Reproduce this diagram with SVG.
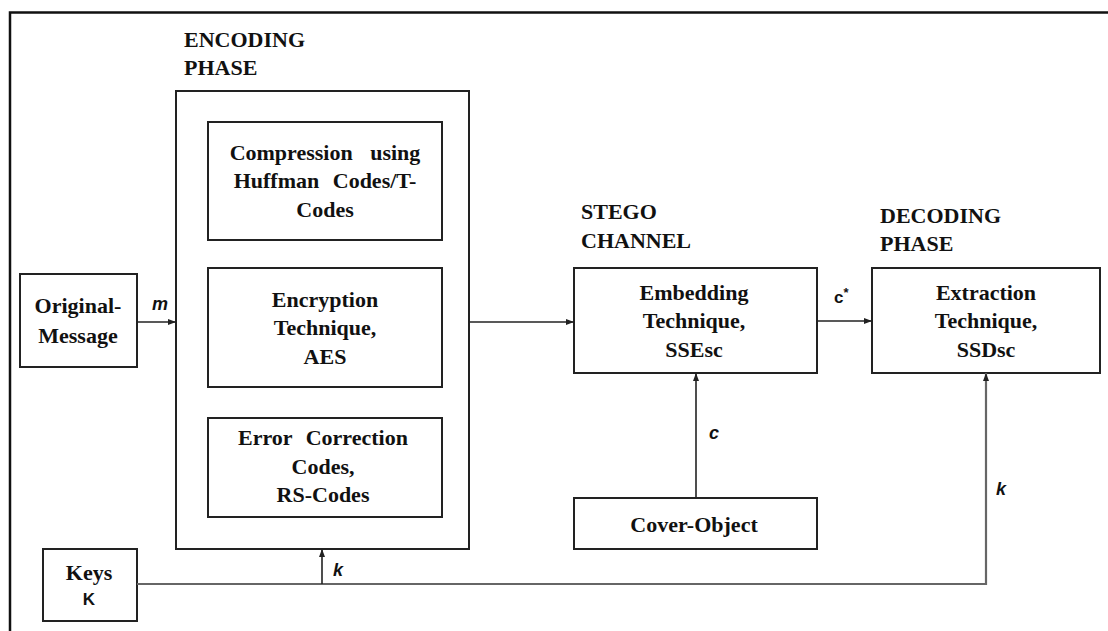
<svg xmlns="http://www.w3.org/2000/svg" width="1108" height="631" viewBox="0 0 1108 631">
<defs>
<style>
.box{fill:#fff;stroke:#222;stroke-width:2}
.t{font-family:"Liberation Serif","Times New Roman",serif;font-weight:bold;font-size:22px;fill:#111;text-anchor:middle}
.h{font-family:"Liberation Serif","Times New Roman",serif;font-weight:bold;font-size:22px;fill:#111}
.lb{font-family:"Liberation Sans",Arial,sans-serif;font-weight:bold;font-style:italic;font-size:18px;fill:#111}
.ln{fill:none;stroke:#222;stroke-width:1.6}
.lg{fill:none;stroke:#666;stroke-width:2.2}
</style>
<marker id="ah" viewBox="0 0 8 8" refX="8" refY="4" markerWidth="8" markerHeight="8" markerUnits="userSpaceOnUse" orient="auto">
<path d="M0,1 L8,4 L0,7 Z" fill="#222"/>
</marker>
</defs>
<rect width="1108" height="631" fill="#fff"/>
<g id="frame">
<path d="M1108,12.5 H10 V631" fill="none" stroke="#111" stroke-width="2.5"/>
</g>
<g id="headings">
<text class="h" x="184" y="47">ENCODING</text>
<text class="h" x="184" y="75">PHASE</text>
<text class="h" x="581" y="219">STEGO</text>
<text class="h" x="581" y="248">CHANNEL</text>
<text class="h" x="880" y="223">DECODING</text>
<text class="h" x="880" y="251">PHASE</text>
</g>
<g id="encoding-phase">
<rect class="box" x="176" y="91" width="293" height="458"/>
</g>
<g id="compression">
<rect class="box" x="208" y="122" width="234" height="118"/>
<text class="t" x="325" y="160" word-spacing="12">Compression using</text>
<text class="t" x="325" y="188" word-spacing="8">Huffman Codes/T-</text>
<text class="t" x="325" y="217">Codes</text>
</g>
<g id="encryption">
<rect class="box" x="208" y="268" width="234" height="119"/>
<text class="t" x="325" y="307">Encryption</text>
<text class="t" x="325" y="335">Technique,</text>
<text class="t" x="325" y="364">AES</text>
</g>
<g id="error-correction">
<rect class="box" x="208" y="418" width="234" height="99"/>
<text class="t" x="323" y="445" word-spacing="8">Error Correction</text>
<text class="t" x="323" y="474">Codes,</text>
<text class="t" x="323" y="502">RS-Codes</text>
</g>
<g id="original-message">
<rect class="box" x="20" y="274" width="117" height="93"/>
<text class="t" x="78" y="313">Original-</text>
<text class="t" x="78" y="343">Message</text>
</g>
<g id="keys">
<rect class="box" x="43" y="549" width="94" height="72"/>
<text class="t" x="89" y="580">Keys</text>
<text x="89" y="605" font-family="'Liberation Sans',Arial,sans-serif" font-weight="bold" font-size="17" fill="#111" text-anchor="middle">K</text>
</g>
<g id="embedding">
<rect class="box" x="574" y="268" width="243" height="105"/>
<text class="t" x="694" y="300">Embedding</text>
<text class="t" x="694" y="328">Technique,</text>
<text class="t" x="694" y="357">SSEsc</text>
</g>
<g id="extraction">
<rect class="box" x="872" y="268" width="228" height="105"/>
<text class="t" x="986" y="300">Extraction</text>
<text class="t" x="986" y="328">Technique,</text>
<text class="t" x="986" y="357">SSDsc</text>
</g>
<g id="cover-object">
<rect class="box" x="574" y="498" width="243" height="51"/>
<text class="t" x="694" y="532">Cover-Object</text>
</g>
<g id="connectors">
<line class="ln" x1="137" y1="322" x2="176" y2="322" marker-end="url(#ah)"/>
<line class="ln" x1="469" y1="322" x2="574" y2="322" marker-end="url(#ah)"/>
<line class="ln" x1="817" y1="321" x2="872" y2="321" marker-end="url(#ah)"/>
<line class="ln" x1="696" y1="498" x2="696" y2="373" marker-end="url(#ah)"/>
<path class="lg" d="M137,584 H986 V373" marker-end="url(#ah)"/>
<line class="ln" x1="322" y1="584" x2="322" y2="549" marker-end="url(#ah)"/>
</g>
<g id="labels">
<text class="lb" x="152" y="310">m</text>
<text class="lb" x="333" y="576">k</text>
<text class="lb" x="709" y="439">c</text>
<text class="lb" x="996" y="495">k</text>
<text x="834" y="303" font-family="'Liberation Sans',Arial,sans-serif" font-weight="bold" font-size="17" fill="#111">c<tspan font-size="13" dy="-6">*</tspan></text>
</g>
</svg>
